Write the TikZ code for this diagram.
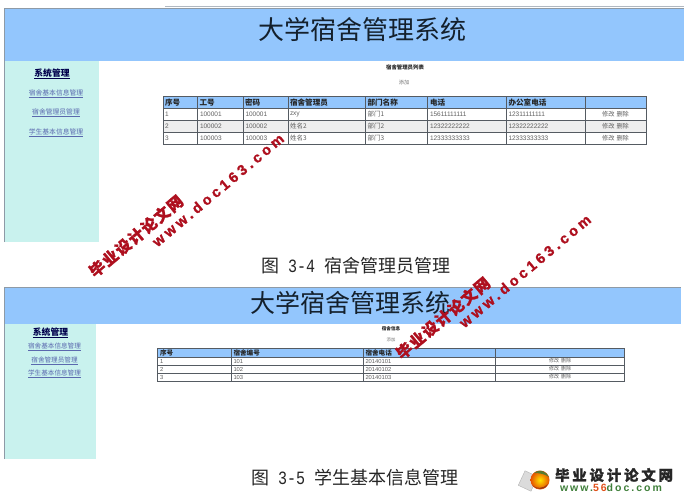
\documentclass[tikz,border=0pt]{standalone}
\usepackage{fontspec}
\setmainfont{Noto Sans CJK SC}
\newfontfamily\latinf{Liberation Sans}
\newfontfamily\monof{Liberation Mono}
\newcommand{\fs}[1]{\fontsize{#1pt}{#1pt}\selectfont}
\definecolor{headblue}{HTML}{93C6FD}
\definecolor{sidecyan}{HTML}{C9F2EE}
\definecolor{linkblue}{HTML}{5A68AE}
\definecolor{edgegray}{HTML}{8E9AA6}
\definecolor{gridgray}{HTML}{555B62}
\definecolor{cellgray}{HTML}{5F5F5F}
\definecolor{titleink}{HTML}{14202C}
\definecolor{wmred}{HTML}{AE0F1E}
\definecolor{rowgray}{HTML}{EEEEEE}
\definecolor{logogreen}{HTML}{3F7F3A}
\definecolor{logoorange}{HTML}{E0501A}
\tikzset{
  txt/.style={inner sep=0pt,outer sep=0pt},
  maintitle/.style={txt,text=titleink},
  caption/.style={txt,text=black!85},
  sidehead/.style={txt,text=black!70!blue},
  sidelink/.style={txt,text=linkblue},
  grid/.style={draw=gridgray,line width=.7pt},
  thead/.style={txt,anchor=west,text=black!85},
  tcell/.style={txt,anchor=west,text=cellgray},
  act/.style={txt,text=cellgray},
  wm/.style={txt,text=wmred,rotate=40},
}
\begin{document}
\begin{tikzpicture}[x=1pt,y=-1pt]
\useasboundingbox (0,0) rectangle (684,497);
\fill[white] (0,0) rectangle (684,497);
% ===== panel 1
\draw[edgegray!70,line width=.7pt] (165,6.5) -- (684,6.5);
\fill[headblue] (5,9) rectangle (684,61);
\fill[sidecyan] (5,61) rectangle (99,242);
\draw[edgegray,line width=.8pt] (4.5,242) -- (4.5,8.5) -- (684,8.5);
\node[maintitle,font=\fs{26}] (title1) at (362,30) {大学宿舍管理系统};
\node[sidehead,font=\fs{8.8}\bfseries] (side1h) at (52,74) {\underline{系统管理}};
\node[sidelink,font=\fs{6.8}] (side1a) at (56,94) {\underline{宿舍基本信息管理}};
\node[sidelink,font=\fs{6.8}] (side1b) at (56,113) {\underline{宿舍管理员管理}};
\node[sidelink,font=\fs{6.8}] (side1c) at (56,132.5) {\underline{学生基本信息管理}};
\node[txt,font=\fs{5.4}\bfseries,text=black!85] (list1) at (405,67.5) {宿舍管理员列表};
\node[txt,font=\fs{5.2},text=black!55] (add1) at (404,83) {添加};
% table 1
\fill[headblue] (163,96.5) rectangle (646,108);
\fill[rowgray] (163,120.5) rectangle (646,132.5);
\draw[grid] (163,96.5) rectangle (646,144.5);
\foreach \yy in {108,120.5,132.5} \draw[grid] (163,\yy) -- (646,\yy);
\foreach \xx in {197.5,243.5,288,365.5,427.7,506.3,585.3} \draw[grid] (\xx,96.5) -- (\xx,144.5);
\foreach \xx/\tt in {165/序号,199.5/工号,245/密码,290/宿舍管理员,367.5/部门名称,430/电话,508.5/办公室电话}
  \node[thead,font=\fs{7.6}\bfseries] at (\xx,102.3) {\tt};
\begin{scope}[every node/.append style={tcell,font=\latinf\fs{6.5}}]
\foreach \yy/\a/\b/\c/\d/\e/\f/\g in {
  114.3/1/100001/100001/zxy/1/15611111111/12311111111,
  126.5/2/100002/100002/姓名2/2/12322222222/12322222222,
  138.5/3/100003/100003/姓名3/3/12333333333/12333333333}{
  \node at (165,\yy) {\a};
  \node at (200,\yy) {\b};
  \node at (245.5,\yy) {\c};
  \node[font=\fs{6.5}] at (290,\yy) {\d};
  \node[font=\fs{6.5}] at (367.5,\yy) {部门\e};
  \node at (430,\yy) {\f};
  \node at (508.5,\yy) {\g};
}
\end{scope}
\foreach \yy in {114.3,126.5,138.5}
  \node[act,font=\fs{6.2}] at (615.5,\yy) {修改\hspace{2pt}删除};
% caption 1
\node[caption,anchor=west,font=\fs{18}] (cap1) at (261,266) {图{\monof\fs{15}~\scalebox{1}[1.25]{3-4}~}宿舍管理员管理};
% ===== panel 2
\fill[headblue] (5,287) rectangle (681,324);
\fill[sidecyan] (5,324) rectangle (96,459);
\draw[edgegray,line width=.8pt] (4.5,459) -- (4.5,287) -- (681,287);
\node[maintitle,font=\fs{25}] (title2) at (350,303) {大学宿舍管理系统};
\node[sidehead,font=\fs{8.8}\bfseries] (side2h) at (50.5,333) {\underline{系统管理}};
\node[sidelink,font=\fs{6.6}] (side2a) at (54.5,347) {\underline{宿舍基本信息管理}};
\node[sidelink,font=\fs{6.6}] (side2b) at (54.5,360.5) {\underline{宿舍管理员管理}};
\node[sidelink,font=\fs{6.6}] (side2c) at (54.5,374) {\underline{学生基本信息管理}};
\node[txt,font=\fs{4.6}\bfseries,text=black!85] (list2) at (391,328.7) {宿舍信息};
\node[txt,font=\fs{4.4},text=black!55] (add2) at (391,339.5) {添加};
% table 2
\fill[headblue] (157.5,348.7) rectangle (624.7,357.5);
\draw[grid] (157.5,348.7) rectangle (624.7,381.7);
\foreach \yy in {357.5,365.7,373.5} \draw[grid] (157.5,\yy) -- (624.7,\yy);
\foreach \xx in {231.5,363.7,495.7} \draw[grid] (\xx,348.7) -- (\xx,381.7);
\foreach \xx/\tt in {160/序号,233.5/宿舍编号,365.5/宿舍电话}
  \node[thead,font=\fs{6.6}\bfseries] at (\xx,353.2) {\tt};
\begin{scope}[every node/.append style={tcell,font=\latinf\fs{5.8}}]
\foreach \yy/\a/\b/\c in {361.5/1/101/20140101,369.6/2/102/20140102,377.6/3/103/20140103}{
  \node at (160,\yy) {\a};
  \node at (233.5,\yy) {\b};
  \node at (365.5,\yy) {\c};
}
\end{scope}
\foreach \yy in {361,369,377}
  \node[act,font=\fs{5}] at (560,\yy) {修改\hspace{2pt}删除};
% caption 2
\node[caption,anchor=west,font=\fs{18}] (cap2) at (251,478) {图{\monof\fs{15}~\scalebox{1}[1.25]{3-5}~}学生基本信息管理};
% ===== watermarks
\node[wm,font=\fs{15.5}\bfseries\addfontfeature{LetterSpace=9,FakeBold=1.5}] (wm1a) at (136,236) {毕业设计论文网};
\node[wm,font=\latinf\fs{14.5}\bfseries\addfontfeature{LetterSpace=24,FakeBold=1.5}] (wm1b) at (218,190) {www.doc163.com};
\node[wm,font=\fs{15.5}\bfseries\addfontfeature{LetterSpace=9,FakeBold=1.5}] (wm2a) at (443,318) {毕业设计论文网};
\node[wm,font=\latinf\fs{14.5}\bfseries\addfontfeature{LetterSpace=24,FakeBold=1.5}] (wm2b) at (525,271) {www.doc163.com};
% ===== logo
\fill[black!14,rotate around={-25:(528,481)}] (521,473) rectangle (535,489);
\draw[black!30,line width=.4pt,rotate around={-25:(528,481)}] (521,473) rectangle (535,489);
\shade[inner color=yellow!80!orange,outer color=orange!70!red!90!black] (540,480) circle (9.5);
\fill[logogreen,opacity=.85] (534,473) .. controls (539,469) and (545,470) .. (549,477) .. controls (545,474) and (539,473) .. (534,473) -- cycle;
\fill[logoorange!70!black] (532,485) .. controls (536,489) and (543,489) .. (548,484) .. controls (546,490) and (537,491) .. (532,485) -- cycle;
\node[txt,anchor=west,text=black!85,font=\fs{14.5}\bfseries\addfontfeature{LetterSpace=19,FakeBold=1}] (logo1) at (555,475) {毕业设计论文网};
\node[txt,anchor=west,text=logogreen,font=\latinf\fs{10.5}\bfseries\addfontfeature{LetterSpace=19}] (logo2) at (560,487.5) {www.\textcolor{logoorange}{56}doc.com};
\end{tikzpicture}
\end{document}
